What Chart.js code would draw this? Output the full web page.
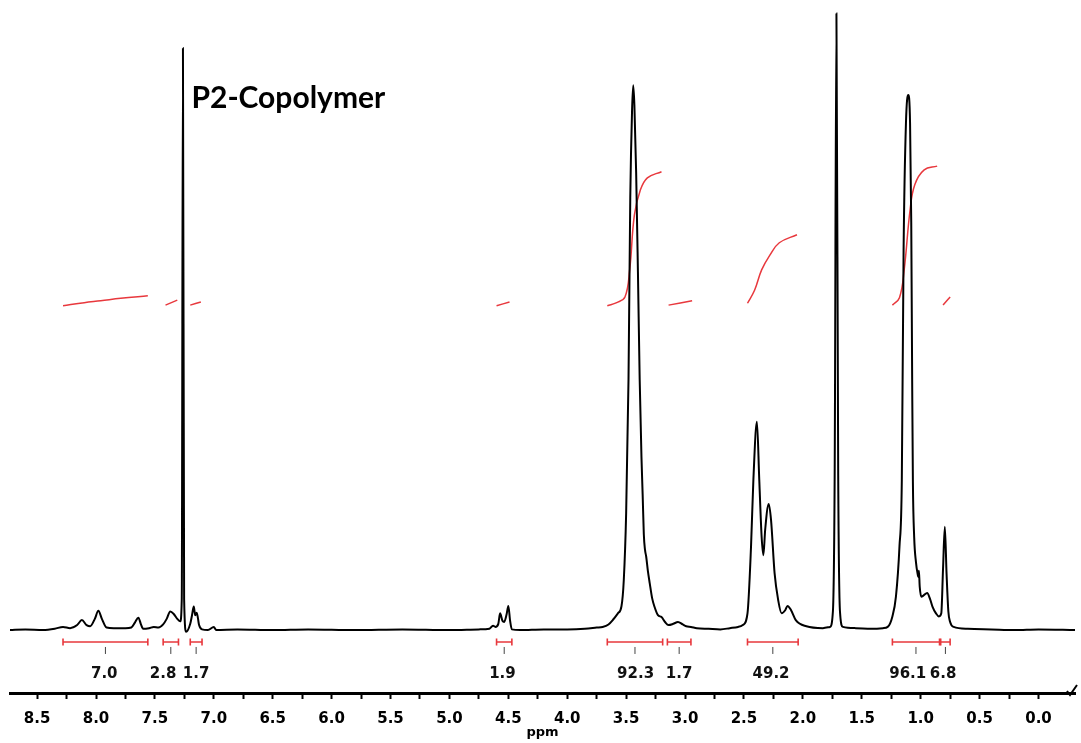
<!DOCTYPE html>
<html>
<head>
<meta charset="utf-8">
<script src="https://cdn.jsdelivr.net/npm/chart.js@4.4.1/dist/chart.umd.min.js"></script>
<style>
  body { margin: 0; background: #fff; }
  #wrap { width: 1081px; height: 743px; }
</style>
</head>
<body>
<div id="wrap"><canvas id="nmr" width="1081" height="743"></canvas></div>
<script>
// 1H NMR spectrum: [ppm, intensity]
const spectrum = [
  [8.73, 0], [8.6, 0.1], [8.45, 0], [8.35, 0.2], [8.28, 0.5], [8.22, 0.3], [8.16, 0.8],
  [8.12, 1.6], [8.08, 0.8], [8.05, 0.6], [8.01, 1.8], [7.98, 3.1], [7.95, 1.8], [7.91, 0.4],
  [7.85, 0.3], [7.75, 0.3], [7.70, 0.4], [7.67, 1.2], [7.64, 2.0], [7.62, 1.0], [7.60, 0.2],
  [7.55, 0.3], [7.51, 0.5], [7.47, 0.4], [7.43, 0.9], [7.40, 1.8], [7.37, 3.0], [7.34, 2.6],
  [7.31, 1.8], [7.285, 1.4], [7.272, 5], [7.262, 94.2], [7.252, 5], [7.235, -0.3],
  [7.20, 1.0], [7.185, 2.4], [7.17, 3.8], [7.158, 2.4], [7.145, 2.8], [7.125, 0.8],
  [7.10, 0.1], [7.05, 0], [7.0, 0.5], [6.98, 0], [6.8, 0.1], [6.5, 0], [6.2, 0.1], [5.8, 0],
  [5.4, 0.1], [5.0, 0], [4.75, 0.1], [4.66, 0.2], [4.63, 0.7], [4.61, 0.5], [4.585, 1.0],
  [4.57, 2.7], [4.55, 1.5], [4.535, 1.3], [4.515, 2.5], [4.50, 3.9], [4.485, 1.5],
  [4.47, 0.1], [4.40, 0], [4.2, 0.1], [4.0, 0.1], [3.85, 0.2], [3.75, 0.4], [3.70, 0.5],
  [3.65, 0.9], [3.61, 1.7], [3.57, 2.7], [3.54, 3.8], [3.52, 8.1], [3.50, 18.9], [3.48, 40.5],
  [3.465, 70], [3.45, 84], [3.44, 88.2], [3.43, 85], [3.415, 74], [3.40, 58], [3.385, 40.5],
  [3.37, 28], [3.36, 22], [3.35, 15.5], [3.34, 13], [3.33, 11.9], [3.315, 9.5], [3.30, 7.6],
  [3.28, 5.2], [3.26, 3.8], [3.23, 2.4], [3.20, 2.1], [3.17, 1.3], [3.14, 0.8], [3.10, 1.0],
  [3.06, 1.3], [3.02, 0.9], [2.99, 0.6], [2.95, 0.5], [2.90, 0.3], [2.80, 0.2], [2.70, 0.1],
  [2.62, 0.3], [2.55, 0.5], [2.51, 0.8], [2.47, 2.7], [2.44, 13.5], [2.42, 24.3], [2.39, 33.7],
  [2.37, 24.3], [2.35, 15.1], [2.335, 12.1], [2.32, 16.2], [2.29, 20.4], [2.27, 17.8],
  [2.24, 9.2], [2.21, 4.9], [2.18, 2.7], [2.15, 3.2], [2.13, 3.9], [2.10, 3.2], [2.06, 1.6],
  [1.97, 0.6], [1.83, 0.3], [1.77, 0.5], [1.745, 3], [1.73, 25], [1.715, 99.8], [1.70, 25],
  [1.685, 3], [1.66, 0.5], [1.55, 0.3], [1.42, 0.2], [1.32, 0.3], [1.28, 0.5], [1.24, 2.2],
  [1.21, 5.4], [1.18, 13.5], [1.16, 24.3], [1.145, 61.5], [1.125, 82], [1.105, 86.6],
  [1.09, 82], [1.08, 66], [1.072, 40], [1.066, 24], [1.055, 15], [1.04, 11], [1.025, 9],
  [1.02, 8.6], [1.015, 9.6], [1.008, 7], [0.995, 5.4], [0.975, 5.6], [0.945, 6.0], [0.92, 5],
  [0.90, 3.8], [0.87, 2.7], [0.845, 2.2], [0.825, 2.7], [0.81, 10], [0.795, 16.7], [0.78, 9],
  [0.765, 3], [0.75, 1.3], [0.72, 0.5], [0.6, 0.2], [0.4, 0.1], [0.2, 0], [0, 0.1], [-0.31, 0]
];

// integral traces (red), one list per region
const integralCurves = [
  [[8.28, 52.5], [8.1, 53.0], [7.96, 53.3], [7.79, 53.7], [7.56, 54.1]],
  [[7.41, 52.6], [7.36, 53.0], [7.31, 53.4]],
  [[7.20, 52.6], [7.11, 53.1]],
  [[4.60, 52.5], [4.49, 53.1]],
  [[3.66, 52.5], [3.58, 53.0], [3.51, 53.9], [3.47, 58.3], [3.43, 67.2], [3.38, 71.2], [3.32, 73.2], [3.20, 74.2]],
  [[3.14, 52.6], [2.94, 53.3]],
  [[2.47, 52.9], [2.41, 55.0], [2.35, 58.3], [2.28, 60.7], [2.20, 62.7], [2.05, 64.0]],
  [[1.24, 52.6], [1.18, 53.8], [1.14, 58.3], [1.09, 68.0], [1.05, 72.1], [0.97, 74.5], [0.86, 75.1]],
  [[0.81, 52.6], [0.75, 53.9]]
];

// integration ranges [from, to] and values
const integralFrom = [8.28, 7.43, 7.20, 4.60, 3.66, 3.15, 2.47, 1.24, 0.83];
const integralTo   = [7.56, 7.30, 7.10, 4.47, 3.19, 2.95, 2.04, 0.84, 0.75];
const integralLabels = ['7.0', '2.8', '1.7', '1.9', '92.3', '1.7', '49.2', '96.1', '6.8'];
const labelPpm = [7.93, 7.43, 7.15, 4.55, 3.42, 3.05, 2.27, 1.11, 0.81];

const tickValues = [];
for (let v = 8.5; v >= -0.001; v -= 0.25) tickValues.push(Math.round(v * 100) / 100);

const RED = '#e8383d';

const decorations = {
  id: 'decorations',
  afterDatasetsDraw(chart) {
    const { ctx, scales: { x, y } } = chart;
    ctx.save();

    // integration brackets
    const by = y.getPixelForValue(-1.94);
    ctx.strokeStyle = RED;
    ctx.lineWidth = 1.6;
    integralFrom.forEach((f, i) => {
      const x1 = x.getPixelForValue(f), x2 = x.getPixelForValue(integralTo[i]);
      ctx.beginPath();
      ctx.moveTo(x1, by); ctx.lineTo(x2, by);
      ctx.moveTo(x1, by - 3.5); ctx.lineTo(x1, by + 3.5);
      ctx.moveTo(x2, by - 3.5); ctx.lineTo(x2, by + 3.5);
      ctx.stroke();
    });
    ctx.strokeStyle = '#444';
    ctx.lineWidth = 1;
    integralFrom.forEach((f, i) => {
      const cx = x.getPixelForValue((f + integralTo[i]) / 2);
      ctx.beginPath();
      ctx.moveTo(cx, by + 5); ctx.lineTo(cx, by + 12);
      ctx.stroke();
    });

    // integral values
    ctx.fillStyle = '#111';
    ctx.font = 'bold 15px "DejaVu Sans"';
    ctx.textAlign = 'center';
    ctx.textBaseline = 'middle';
    const ly = y.getPixelForValue(-7.1);
    integralLabels.forEach((t, i) => ctx.fillText(t, x.getPixelForValue(labelPpm[i]), ly));

    // sample name
    ctx.font = 'bold 30px Lato';
    ctx.textAlign = 'left';
    ctx.textBaseline = 'alphabetic';
    ctx.fillStyle = '#000';
    ctx.fillText('P2-Copolymer', x.getPixelForValue(7.19), y.getPixelForValue(84.5));

    // axis unit
    const area = chart.chartArea;
    ctx.font = 'bold 13px "DejaVu Sans"';
    ctx.textAlign = 'center';
    ctx.textBaseline = 'middle';
    ctx.fillText('ppm', (area.left + area.right) / 2, area.bottom + 40);

    // axis break mark
    const ax = area.right, ay = area.bottom;
    ctx.strokeStyle = '#000';
    ctx.lineWidth = 2;
    ctx.beginPath();
    ctx.moveTo(ax - 8, ay - 2); ctx.lineTo(ax - 5, ay + 2); ctx.lineTo(ax + 2, ay - 8);
    ctx.stroke();
    ctx.restore();
  }
};

const datasets = [{
  data: spectrum.map(([px, iy]) => ({ x: px, y: iy })),
  borderColor: '#000',
  borderWidth: 2,
  pointRadius: 0,
  cubicInterpolationMode: 'monotone'
}];
integralCurves.forEach(curve => datasets.push({
  data: curve.map(([px, iy]) => ({ x: px, y: iy })),
  borderColor: RED,
  borderWidth: 1.5,
  pointRadius: 0,
  tension: 0.4
}));

new Chart(document.getElementById('nmr'), {
  type: 'line',
  data: { datasets },
  plugins: [decorations],
  options: {
    responsive: false,
    animation: false,
    layout: { padding: { left: 10, right: 6, top: 0, bottom: 4 } },
    plugins: { legend: { display: false }, tooltip: { enabled: false } },
    scales: {
      x: {
        type: 'linear',
        reverse: true,
        min: -0.31,
        max: 8.73,
        afterBuildTicks: s => { s.ticks = tickValues.map(v => ({ value: v })); },
        ticks: {
          autoSkip: false,
          maxRotation: 0,
          padding: 11,
          color: '#000',
          font: { family: 'DejaVu Sans', weight: 'bold', size: 15 },
          callback: v => (Math.abs(v * 2 - Math.round(v * 2)) < 1e-6 ? v.toFixed(1) : '')
        },
        grid: { drawOnChartArea: false, tickLength: 6, tickWidth: 2, tickColor: '#000' },
        border: { display: true, width: 3, color: '#000' }
      },
      y: { display: false, min: -10.2, max: 102 }
    }
  }
});
</script>
</body>
</html>
